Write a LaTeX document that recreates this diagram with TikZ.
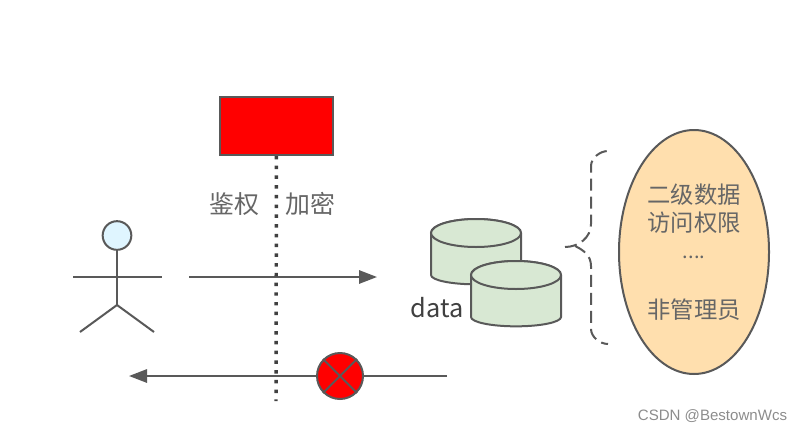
\documentclass[tikz,border=0pt]{standalone}
\usepackage{fontspec}
\newfontfamily\cjk{Noto Sans CJK SC}
\newfontfamily\wmfont{Liberation Sans}
\usetikzlibrary{arrows.meta,shapes.geometric}
\definecolor{inkgray}{HTML}{595959}
\definecolor{txtgray}{HTML}{666666}
\definecolor{tubgreen}{HTML}{D8E8D3}
\definecolor{peach}{HTML}{FFDFAE}
\definecolor{headblue}{HTML}{DFF5FF}
\tikzset{
  ink/.style={draw=inkgray,line width=1.5pt},
  cntext/.style={text=txtgray,inner sep=0pt,font=\cjk\fontsize{17.5}{20}\selectfont},
  flow/.style={ink,-{Triangle[length=13.5pt,width=10pt]}},
  tub/.pic={
    \draw[ink,fill=tubgreen] (-45,0) -- (-45,42) arc[start angle=180,end angle=360,x radius=33.75pt,y radius=7pt]
      -- (45,0) arc[start angle=0,end angle=180,x radius=33.75pt,y radius=10.5pt] -- cycle;
    \draw[ink,fill=tubgreen] (0,0) ellipse[x radius=33.75pt,y radius=10.5pt];
  }
}
\begin{document}
\begin{tikzpicture}[x=.75pt,y=-.75pt]
  \useasboundingbox (0,0) rectangle (802,432);
  % guard and its dotted line
  \draw
    (276.5,126) node[ink,fill=red,inner sep=0pt,minimum width=84.75pt,minimum height=43.5pt] (guard){}
    (276,401) coordinate (lineend)
    (234,204) node[cntext,font=\cjk\fontsize{18.7}{20}\selectfont] (authz){鉴权}
    (310,204) node[cntext,font=\cjk\fontsize{18.7}{20}\selectfont] (crypt){加密};
  % person
  \draw
    (117,235.5) node[ink,circle,fill=headblue,inner sep=0pt,minimum size=21.5pt] (head){}
    (117,305) coordinate (hip)
    (73,277) coordinate (handl)
    (162,277) coordinate (handr)
    (80,332) coordinate (footl)
    (154,332) coordinate (footr);
  \begin{scope}[ink]
    \draw (head) to (hip);
    \draw (handl) to (handr);
    \draw (hip) to (footl);
    \draw (hip) to (footr);
  \end{scope}
  % request and refused reply
  \draw
    (189,277) coordinate (reqstart)
    (377,277) coordinate (reqend)
    (447,376) coordinate (repstart)
    (129,376) coordinate (repend)
    (340,376) node[ink,circle,fill=red,inner sep=0pt,minimum size=34.5pt] (deny){};
  \draw[flow] (reqstart) to (reqend);
  \draw[ink] (repstart) to (deny);
  \draw[flow] (deny) to (repend);
  \draw[ink] (deny.45) to (deny.225);
  \draw[ink] (deny.135) to (deny.315);
  \draw[draw=black!75,line width=2.6pt,dash pattern=on 2.6pt off 4.7pt] (guard) to (lineend);
  % data
  \pic (dbback) at (476,233) {tub};
  \pic (dbfront) at (516,275) {tub};
  \draw
    (437,308) node[text=black!75,inner sep=0pt,font=\cjk\fontsize{19}{20}\selectfont] (dbname){data};
  % brace
  \draw
    (608,151) coordinate (bracetop)
    (591,166) coordinate (bracea)
    (591,224) coordinate (braceb)
    (565,247) coordinate (bracetip)
    (575,246) coordinate (bracemid)
    (591,266) coordinate (bracec)
    (591,329) coordinate (braced)
    (608,344) coordinate (bracebot);
  \begin{scope}[ink,dash pattern=on 9pt off 4.5pt]
    \draw (bracetip) to[out=0,in=-90] (braceb) to (bracea) to[out=90,in=180,looseness=.9] (bracetop);
    \draw (bracemid) to[out=-25,in=90] (bracec) to (braced) to[out=-90,in=180,looseness=.9] (bracebot);
  \end{scope}
  % scope of the account
  \draw
    (694,252) node[ink,ellipse,fill=peach,inner sep=0pt,minimum width=112.5pt,minimum height=183pt] (scopeoval){}
    (694,195) node[cntext] (line1){二级数据}
    (694,223) node[cntext] (line2){访问权限}
    (694,257) node[cntext,font=\cjk\fontsize{15}{20}\selectfont] (line3){....}
    (694,310) node[cntext] (line4){非管理员}
    (712.5,416) node[text=black!45,inner sep=0pt,font=\wmfont\fontsize{11.3}{12}\selectfont] (wmark){CSDN @BestownWcs};
\end{tikzpicture}
\end{document}
